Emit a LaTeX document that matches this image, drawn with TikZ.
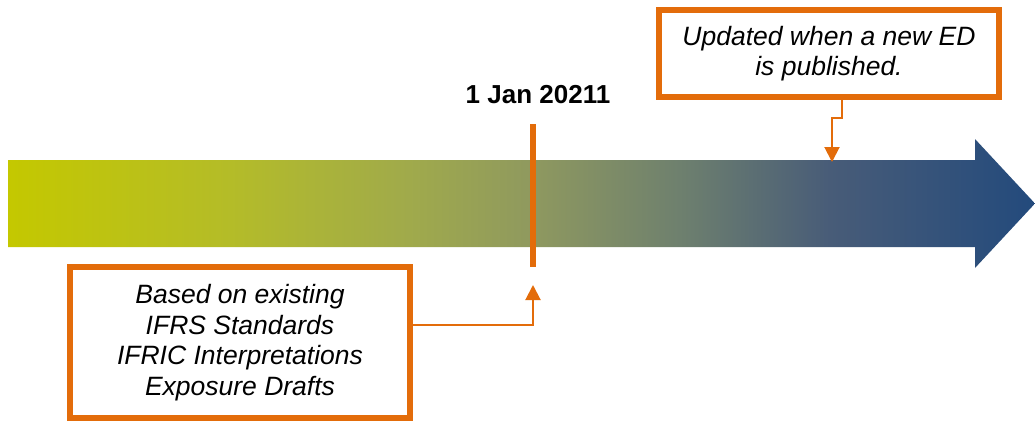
\documentclass[tikz,border=0pt]{standalone}
\usepackage{fontspec}
\setmainfont{Liberation Sans}
\usepackage{xcolor}
\usepackage{tikz}
\usetikzlibrary{arrows.meta,calc,positioning}
\definecolor{markorange}{HTML}{E36C0A}
\definecolor{lineA}{RGB}{196,200,0}
\definecolor{lineB}{RGB}{180,188,40}
\definecolor{lineC}{RGB}{160,170,75}
\definecolor{lineD}{RGB}{143,153,95}
\definecolor{lineE}{RGB}{110,128,110}
\definecolor{lineF}{RGB}{72,92,120}
\definecolor{lineG}{RGB}{35,74,124}
\pgfdeclarehorizontalshading{timeshade}{100bp}{%
  color(0bp)=(lineA); color(25bp)=(lineA); color(35.8bp)=(lineB);
  color(44.5bp)=(lineC); color(50.5bp)=(lineD); color(57.7bp)=(lineE);
  color(65bp)=(lineF); color(75bp)=(lineG); color(100bp)=(lineG)}

\begin{document}
\begin{tikzpicture}[
    x=0.5pt, y=-0.5pt,
    notebox/.style={draw=markorange, line width=3pt, fill=white, align=center,
        minimum width=170pt, font=\fontsize{13.25}{15.25}\selectfont\itshape},
    datelabel/.style={font=\fontsize{13}{15}\selectfont\bfseries},
    marker/.style={draw=markorange, line width=3pt},
    link/.style={draw=markorange, line width=1pt, -{Triangle[width=7.5pt,length=7.5pt]}}
]
\useasboundingbox (0,0) rectangle (1035,423);

% the timeline arrow
\path[shading=timeshade] (8,160) -- (975,160) -- (975,139) -- (1035,203.5)
    -- (975,268) -- (975,247) -- (8,247) -- cycle;

% date marker
\node[datelabel] (date) at (538,95) {1 Jan 20211};
\coordinate (mtop) at (533,124);
\coordinate (mbot) at (533,267);
\draw[marker] (mtop) -- (mbot);

% notes
\node[notebox, minimum height=43.5pt] (upd) at (829,53.5) {Updated when a new ED\\is published.};
\node[notebox, minimum height=75.5pt] (based) at (240,342.5)
    {Based on existing\\IFRS Standards\\IFRIC Interpretations\\Exposure Drafts};

\coordinate (updtip) at (832,162);
\coordinate (basedtip) at (533,285);
\draw[link] ([xshift=6.5pt]upd.south) -- ++(0,18) -| (updtip);
\draw[link] ([yshift=8.75pt]based.east) -| (basedtip);
\end{tikzpicture}
\end{document}
